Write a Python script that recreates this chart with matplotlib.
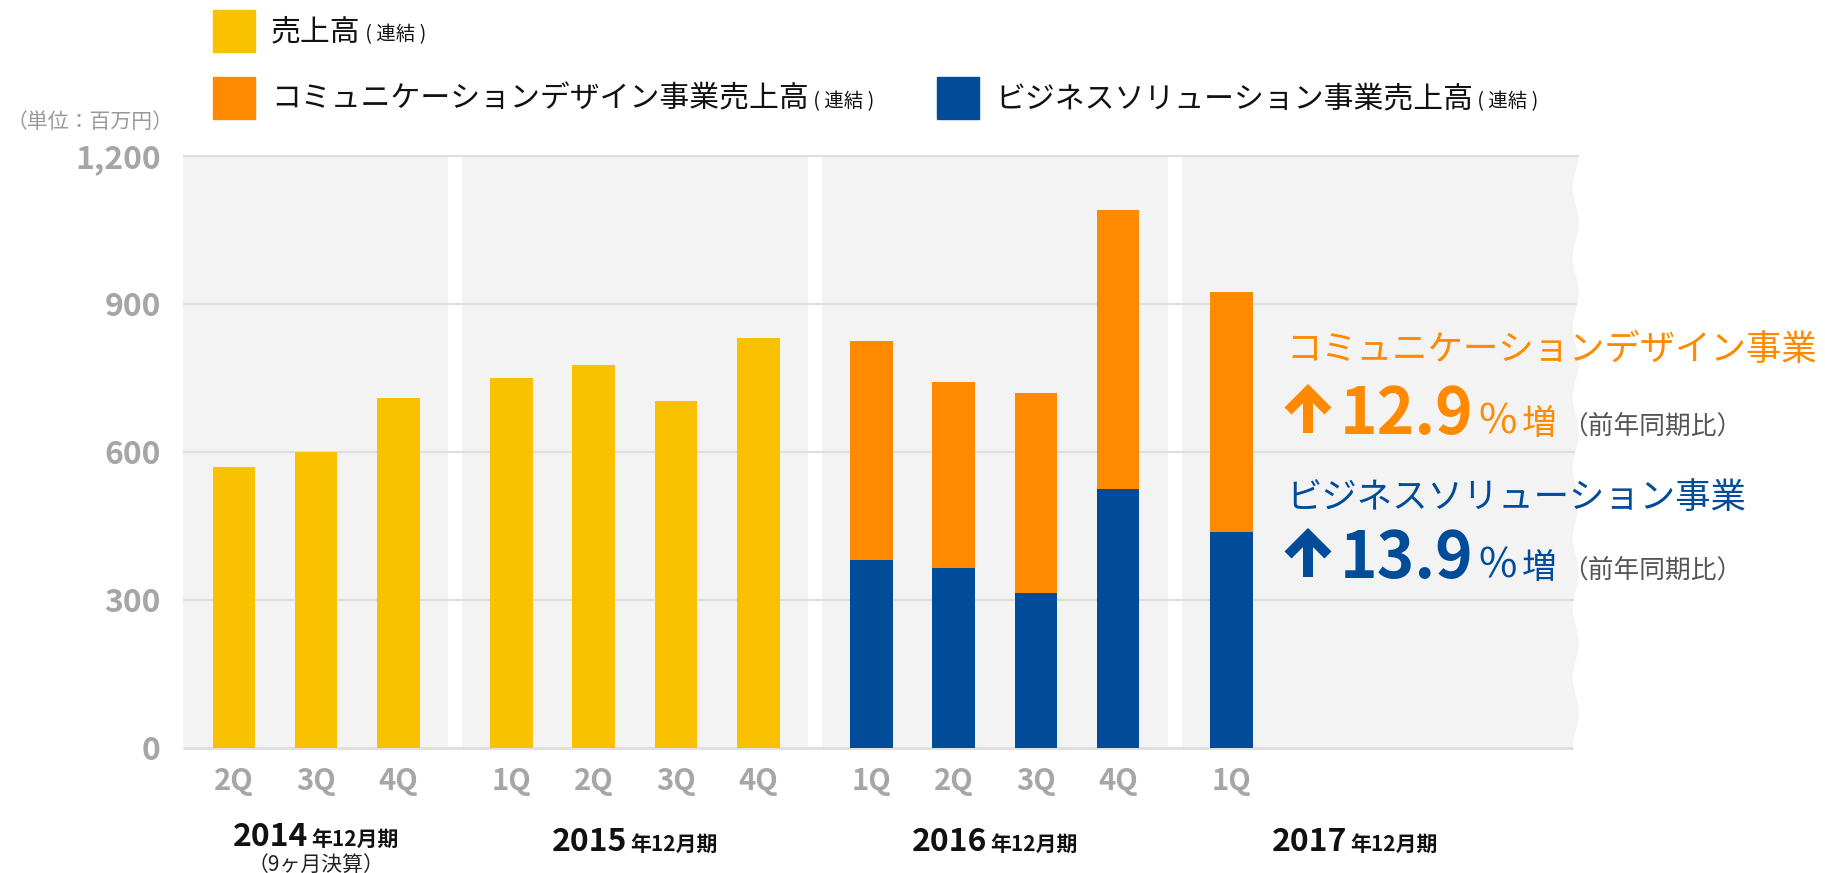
import numpy as np
import matplotlib.pyplot as plt
from matplotlib.patches import Polygon
from matplotlib.lines import Line2D

plt.rcParams['font.family'] = ['Noto Sans CJK JP', 'DejaVu Sans']

# --- data (百万円) ---
years = ['2014', '2015', '2016', '2017']
quarters = [['2Q', '3Q', '4Q'],
            ['1Q', '2Q', '3Q', '4Q'],
            ['1Q', '2Q', '3Q', '4Q'],
            ['1Q']]
sales_total = [569, 600, 709, 751, 777, 704, 832]      # 売上高(連結) 2014-2015
bs_sales = [382, 365, 314, 526, 438]                   # ビジネスソリューション 2016-2017
cd_sales = [442, 377, 406, 564, 486]                   # コミュニケーションデザイン 2016-2017
yticks = [0, 300, 600, 900, 1200]

YELLOW = '#F9C100'
ORANGE = '#FF8A00'
BLUE = '#004C98'
BG = '#F3F3F3'
GRID = '#DEDEDE'
TICK = '#A6A6A6'

W, H = 1825, 873
fig = plt.figure(figsize=(W / 100, H / 100), dpi=100)
renderer = fig.canvas.get_renderer()

x0_px, x1_px = 183, 1598
ax = fig.add_axes([x0_px / W, 1 - 748 / H, (x1_px - x0_px) / W, (748 - 156) / H])
ax.patch.set_visible(False)
for s in ax.spines.values():
    s.set_visible(False)

# bar positions: slots of 1, wider gap between fiscal years
gap = 1.38
pos, labels, group_pos = [], [], []
cur = 0.0
for qs in quarters:
    g = []
    for q in qs:
        pos.append(cur)
        labels.append(q)
        g.append(cur)
        cur += 1
    group_pos.append(g)
    cur += gap - 1
pos = np.array(pos)

xmin, xmax = -0.62, 16.6
ax.set_xlim(xmin, xmax)
ax.set_ylim(0, 1200)


def wave_x(y):
    return 16.33 + 0.037 * np.cos(2 * np.pi * (y - 71) / 142)


ys = np.linspace(1200, 0, 400)
bg_pts = [(xmin, 0), (xmin, 1200)] + list(zip(wave_x(ys), ys))
ax.add_patch(Polygon(bg_pts, closed=True, facecolor=BG, edgecolor='none', zorder=0, clip_on=False))

# white separators between fiscal years
for a, b in zip(group_pos[:-1], group_pos[1:]):
    c = (a[-1] + b[0]) / 2
    ax.axvspan(c - 0.085, c + 0.085, color='white', zorder=1, lw=0)

# gridlines
for yv in yticks:
    ax.plot([xmin, wave_x(yv)], [yv, yv], color=GRID, lw=2 if yv == 0 else 1.6,
            zorder=2, clip_on=False, solid_capstyle='butt')

bw = 0.52
n_total = len(sales_total)
ax.bar(pos[:n_total], sales_total, width=bw, color=YELLOW, zorder=3)
ax.bar(pos[n_total:], bs_sales, width=bw, color=BLUE, zorder=3)
ax.bar(pos[n_total:], cd_sales, bottom=bs_sales, width=bw, color=ORANGE, zorder=3)

ax.set_yticks(yticks)
ax.set_yticklabels(['{:,}'.format(v) for v in yticks], fontsize=23, color=TICK, fontweight='bold')
ax.set_xticks(pos)
ax.set_xticklabels(labels, fontsize=21, color=TICK, fontweight='bold')
ax.tick_params(axis='y', length=0, pad=16)
ax.tick_params(axis='x', length=0, pad=13)


def run(x, y, pieces, ha='left', sep=0):
    """place text pieces side by side on one baseline (pixel coords, y from top)"""
    items = []
    cx = x
    for s, kw in pieces:
        t = fig.text(cx / W, 1 - y / H, s, ha='left', va='baseline', **kw)
        w = t.get_window_extent(renderer).width
        items.append((t, cx))
        cx += w + sep
    if ha == 'center':
        shift = (cx - sep - x) / 2
        for t, px in items:
            t.set_x((px - shift) / W)
    return cx


def data_to_px(xd):
    return x0_px + (xd - xmin) / (xmax - xmin) * (x1_px - x0_px)


# fiscal year labels
for i, (yr, g) in enumerate(zip(years, group_pos)):
    xc = np.mean(g) if len(g) > 1 else g[0] + 1.5
    base = 846 if i == 0 else 851
    run(data_to_px(xc), base,
        [(yr, dict(fontsize=23, fontweight='bold', color='#111111')),
         ('年12月期', dict(fontsize=15, fontweight='bold', color='#111111'))],
        ha='center', sep=3)
run(data_to_px(np.mean(group_pos[0])), 871,
    [('（9ヶ月決算）', dict(fontsize=15, color='#222222'))], ha='center')

# unit label
fig.text(174 / W, 1 - 128 / H, '（単位：百万円）', ha='right', va='baseline',
         fontsize=15, color='#999999')

# legend
legend_rows = [(213, 10, YELLOW, '売上高'),
               (213, 77, ORANGE, 'コミュニケーションデザイン事業売上高'),
               (937, 77, BLUE, 'ビジネスソリューション事業売上高')]
for lx, ly, col, txt in legend_rows:
    fig.patches.append(plt.Rectangle((lx / W, 1 - (ly + 42) / H), 42 / W, 42 / H,
                                     transform=fig.transFigure, color=col))
    run(lx + 58, ly + 30,
        [(txt, dict(fontsize=21.5, color='#111111')),
         (' ( 連結 )', dict(fontsize=14, color='#111111'))])

# growth annotations
notes = [(ORANGE, 'コミュニケーションデザイン事業', '12.9', 360, 434),
         (BLUE, 'ビジネスソリューション事業', '13.9', 508, 578)]
for col, title, pct, ty, py in notes:
    fig.text(1286 / W, 1 - ty / H, title, ha='left', va='baseline', fontsize=25.5, color=col)
    # thick up arrow
    ax_x = 1308
    for xs, yy in [([ax_x, ax_x], [py - 1, py - 44]),
                   ([ax_x - 20, ax_x, ax_x + 20], [py - 23, py - 43, py - 23])]:
        fig.add_artist(Line2D(np.array(xs) / W, 1 - np.array(yy) / H, color=col, lw=7.2,
                              solid_capstyle='butt', solid_joinstyle='miter',
                              transform=fig.transFigure))
    run(1340, py,
        [(pct, dict(fontsize=46, fontweight='bold', color=col)),
         ('%', dict(fontsize=30, color=col)),
         ('増', dict(fontsize=25, color=col)),
         ('（前年同期比）', dict(fontsize=18.5, color='#555555'))], sep=5)

fig.savefig('out.png', dpi=100)
